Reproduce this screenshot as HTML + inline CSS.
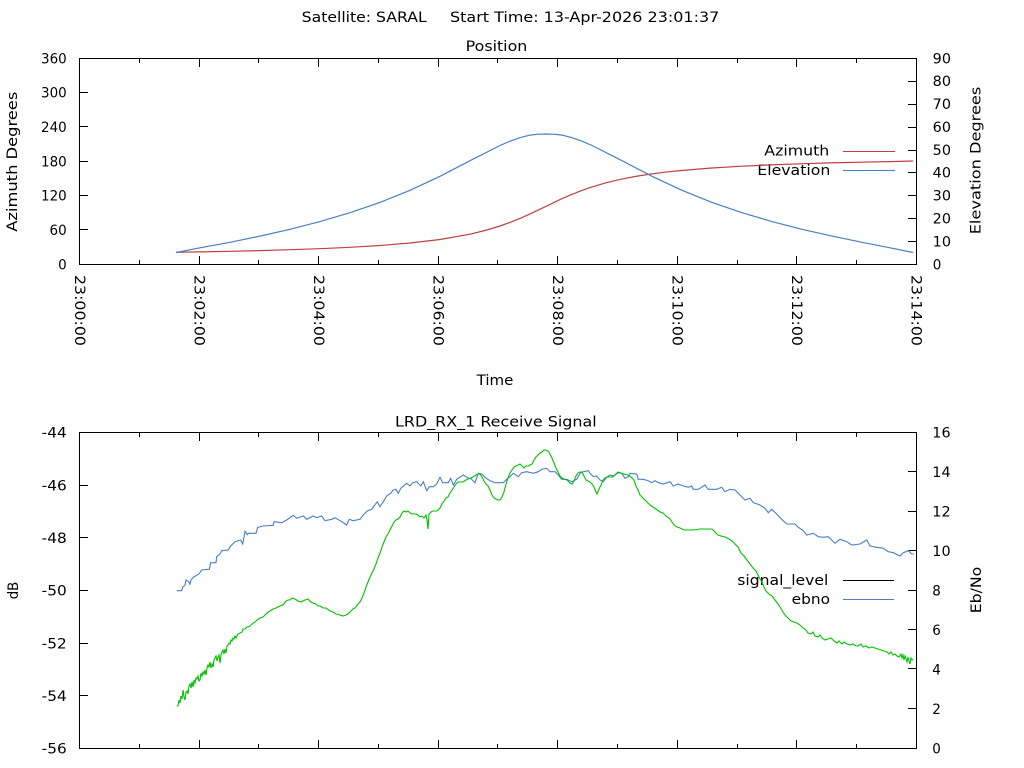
<!DOCTYPE html>
<html><head><meta charset="utf-8"><style>
html,body{margin:0;padding:0;background:#fff;}
svg{display:block;}
text{font-family:"DejaVu Sans","Liberation Sans",sans-serif;font-size:14px;fill:#000;}
</style></head><body>
<svg width="1024" height="768" viewBox="0 0 1024 768" xmlns="http://www.w3.org/2000/svg">
<rect width="1024" height="768" fill="#fff"/>
<text x="301.7" y="22" textLength="125" lengthAdjust="spacingAndGlyphs">Satellite: SARAL</text>
<text x="450" y="22" textLength="269.3" lengthAdjust="spacingAndGlyphs">Start Time: 13-Apr-2026 23:01:37</text>
<text x="465.7" y="51" textLength="61.6" lengthAdjust="spacingAndGlyphs">Position</text>
<text x="476.7" y="385" textLength="36.7" lengthAdjust="spacingAndGlyphs">Time</text>
<text x="395" y="426.7" textLength="201.7" lengthAdjust="spacingAndGlyphs">LRD_RX_1 Receive Signal</text>

<g shape-rendering="crispEdges" stroke="#000" stroke-width="1" fill="none">
<rect x="79.5" y="58.5" width="837" height="206"/>
<rect x="79.5" y="432.5" width="837" height="316"/>
<path d="M199.5 264V256M318.5 264V256M438.5 264V256M557.5 264V256M677.5 264V256M796.5 264V256
M199.5 59V67M318.5 59V67M438.5 59V67M557.5 59V67M677.5 59V67M796.5 59V67
M139.5 264V260M258.5 264V260M378.5 264V260M497.5 264V260M617.5 264V260M737.5 264V260M856.5 264V260
M139.5 59V63M258.5 59V63M378.5 59V63M497.5 59V63M617.5 59V63M737.5 59V63M856.5 59V63
M80 92.5H88M80 126.5H88M80 161.5H88M80 195.5H88M80 229.5H88
M916 81.5H908M916 104.5H908M916 127.5H908M916 150.5H908M916 172.5H908M916 195.5H908M916 218.5H908M916 241.5H908
M199.5 748V740M318.5 748V740M438.5 748V740M557.5 748V740M677.5 748V740M796.5 748V740
M199.5 433V441M318.5 433V441M438.5 433V441M557.5 433V441M677.5 433V441M796.5 433V441
M139.5 748V744M258.5 748V744M378.5 748V744M497.5 748V744M617.5 748V744M737.5 748V744M856.5 748V744
M139.5 433V437M258.5 433V437M378.5 433V437M497.5 433V437M617.5 433V437M737.5 433V437M856.5 433V437
M80 485.5H88M80 537.5H88M80 590.5H88M80 643.5H88M80 695.5H88
M916 471.5H908M916 511.5H908M916 550.5H908M916 590.5H908M916 629.5H908M916 668.5H908M916 708.5H908"/>
</g>

<g text-anchor="end">
<text x="66.7" y="63.3" textLength="25.7" lengthAdjust="spacingAndGlyphs">360</text>
<text x="66.7" y="97.6" textLength="25.7" lengthAdjust="spacingAndGlyphs">300</text>
<text x="66.7" y="131.9" textLength="25.7" lengthAdjust="spacingAndGlyphs">240</text>
<text x="66.7" y="166.3" textLength="25.7" lengthAdjust="spacingAndGlyphs">180</text>
<text x="66.7" y="200.6" textLength="25.7" lengthAdjust="spacingAndGlyphs">120</text>
<text x="66.7" y="234.9" textLength="17.2" lengthAdjust="spacingAndGlyphs">60</text>
<text x="66.7" y="269.3" textLength="8.6" lengthAdjust="spacingAndGlyphs">0</text>
<text x="66.7" y="437.6" textLength="25" lengthAdjust="spacingAndGlyphs">-44</text>
<text x="66.7" y="490.3" textLength="25" lengthAdjust="spacingAndGlyphs">-46</text>
<text x="66.7" y="542.9" textLength="25" lengthAdjust="spacingAndGlyphs">-48</text>
<text x="66.7" y="595.6" textLength="25" lengthAdjust="spacingAndGlyphs">-50</text>
<text x="66.7" y="648.3" textLength="25" lengthAdjust="spacingAndGlyphs">-52</text>
<text x="66.7" y="700.9" textLength="25" lengthAdjust="spacingAndGlyphs">-54</text>
<text x="66.7" y="753.6" textLength="25" lengthAdjust="spacingAndGlyphs">-56</text>
</g>
<g>
<text x="932.7" y="63.3" textLength="18.3" lengthAdjust="spacingAndGlyphs">90</text>
<text x="932.7" y="86.2" textLength="18.3" lengthAdjust="spacingAndGlyphs">80</text>
<text x="932.7" y="109.1" textLength="18.3" lengthAdjust="spacingAndGlyphs">70</text>
<text x="932.7" y="132" textLength="18.3" lengthAdjust="spacingAndGlyphs">60</text>
<text x="932.7" y="154.9" textLength="18.3" lengthAdjust="spacingAndGlyphs">50</text>
<text x="932.7" y="177.7" textLength="18.3" lengthAdjust="spacingAndGlyphs">40</text>
<text x="932.7" y="200.6" textLength="18.3" lengthAdjust="spacingAndGlyphs">30</text>
<text x="932.7" y="223.5" textLength="18.3" lengthAdjust="spacingAndGlyphs">20</text>
<text x="932.7" y="246.4" textLength="18.3" lengthAdjust="spacingAndGlyphs">10</text>
<text x="932.7" y="269.3" textLength="8.6" lengthAdjust="spacingAndGlyphs">0</text>
<text x="932.3" y="437.6" textLength="18.3" lengthAdjust="spacingAndGlyphs">16</text>
<text x="932.3" y="477.1" textLength="18.3" lengthAdjust="spacingAndGlyphs">14</text>
<text x="932.3" y="516.6" textLength="18.3" lengthAdjust="spacingAndGlyphs">12</text>
<text x="932.3" y="556.1" textLength="18.3" lengthAdjust="spacingAndGlyphs">10</text>
<text x="932.3" y="595.6" textLength="8.6" lengthAdjust="spacingAndGlyphs">8</text>
<text x="932.3" y="635.1" textLength="8.6" lengthAdjust="spacingAndGlyphs">6</text>
<text x="932.3" y="674.6" textLength="8.6" lengthAdjust="spacingAndGlyphs">4</text>
<text x="932.3" y="714.1" textLength="8.6" lengthAdjust="spacingAndGlyphs">2</text>
<text x="932.3" y="753.6" textLength="8.6" lengthAdjust="spacingAndGlyphs">0</text>
</g>
<g>
<text transform="translate(74.8,275) rotate(90)" textLength="71" lengthAdjust="spacingAndGlyphs">23:00:00</text>
<text transform="translate(194.3,275) rotate(90)" textLength="71" lengthAdjust="spacingAndGlyphs">23:02:00</text>
<text transform="translate(313.8,275) rotate(90)" textLength="71" lengthAdjust="spacingAndGlyphs">23:04:00</text>
<text transform="translate(433.3,275) rotate(90)" textLength="71" lengthAdjust="spacingAndGlyphs">23:06:00</text>
<text transform="translate(552.8,275) rotate(90)" textLength="71" lengthAdjust="spacingAndGlyphs">23:08:00</text>
<text transform="translate(672.3,275) rotate(90)" textLength="71" lengthAdjust="spacingAndGlyphs">23:10:00</text>
<text transform="translate(791.8,275) rotate(90)" textLength="71" lengthAdjust="spacingAndGlyphs">23:12:00</text>
<text transform="translate(911.3,275) rotate(90)" textLength="71" lengthAdjust="spacingAndGlyphs">23:14:00</text>
</g>
<text transform="translate(17,231.7) rotate(-90)" textLength="140" lengthAdjust="spacingAndGlyphs">Azimuth Degrees</text>
<text transform="translate(980.5,234.3) rotate(-90)" textLength="147.6" lengthAdjust="spacingAndGlyphs">Elevation Degrees</text>
<text transform="translate(17.8,599.3) rotate(-90)" textLength="17.6" lengthAdjust="spacingAndGlyphs">dB</text>
<text transform="translate(981,613.3) rotate(-90)" textLength="46.6" lengthAdjust="spacingAndGlyphs">Eb/No</text>

<text x="764.3" y="155.7" textLength="65" lengthAdjust="spacingAndGlyphs">Azimuth</text>
<text x="757.3" y="175" textLength="73" lengthAdjust="spacingAndGlyphs">Elevation</text>
<g shape-rendering="crispEdges">
<path d="M843 151.5H895" stroke="#c04040" stroke-width="1"/>
<path d="M843 170.5H895" stroke="#4a7fc1" stroke-width="1"/>
<path d="M843 580.5H894" stroke="#000" stroke-width="1"/>
<path d="M843 599.5H894" stroke="#4a7fc1" stroke-width="1"/>
</g>
<text x="737.3" y="585" textLength="91" lengthAdjust="spacingAndGlyphs">signal_level</text>
<text x="791.7" y="604" textLength="38.3" lengthAdjust="spacingAndGlyphs">ebno</text>

<polyline fill="none" stroke="#c04040" stroke-width="1.2" points="176,252.3 200,251.9 230,251.3 260,250.6 290,249.7 320,248.7 350,247.3 380,245.5 410,243 440,239.5 470,234.2 485,230.5 500,226 510,222.4 520,218.4 530,213.9 545,206.8 560,199.6 570,195.2 580,191.2 590,187.6 605,183.05 620,179.4 635,176.5 650,174.1 665,172.2 680,170.6 710,168.1 740,166.3 770,164.9 800,163.8 830,162.9 860,162.2 890,161.6 913,161"/>
<polyline fill="none" stroke="#4a7fc1" stroke-width="1.2" points="176,252.5 200,247.8 230,242.3 260,236.1 290,229.3 320,221.6 350,212.7 380,202.4 410,190.3 440,176.3 470,160.7 500,145.5 510,141.2 520,137.7 530,135.1 537,134.3 546,134 555,134.3 562,135.1 572,137.7 582,141.2 592,145.5 622,160.7 652,176.3 682,190.3 712,202.4 742,212.7 772,221.6 802,229.3 832,236.1 862,242.3 890,247.8 913,252.5"/>

<polyline fill="none" stroke="#4a7fc1" stroke-width="1.1" points="176.7,590.7 181.7,590.7 182.7,587.3 185,585 186,580 188.7,581.7 190,584.3 191,580 193.3,577.3 199,574 201.7,570 209.3,569.3 210.7,562.7 216,562.7 216.7,556.7 220,554 221.7,550.7 228.3,550 230,546.7 235,541.7 240.7,540 242.7,544 245,531.3 247.3,534.7 248.3,533.3 256,533.3 257.7,527.3 263.3,526 273.3,525.3 274,521.7 281.7,522.7 286.7,520 293.3,515.3 296.7,518.3 303.3,516 306.7,519.3 313.3,516 316.7,517.7 321.7,516 325,520.7 331.7,519.3 335,517.7 340,520.7 343.3,522.7 346.7,525 349.3,519.3 353.3,520.7 360,519.3 363.3,515 367.3,511 371.7,509.3 374,506 377.3,501.7 380,506.7 383.3,501.7 386.7,496 390.7,493.3 393.3,490 396,489.3 398.3,493.3 400.7,488.3 406.7,483.3 410,486 412.7,482.7 416.7,481.7 420.7,486 423.3,481.7 426.7,490.7 429.3,486.7 433.3,486.7 436.7,484 440,477.3 442.7,482.7 448.3,482.7 450.7,478.3 453.3,485 456.7,479.3 463.3,475 466.7,477.3 471.7,479.3 475,482.7 478.3,473.3 481.7,474 485,477.3 490,480.7 495,482.7 503.3,482.7 506.7,479.3 510,476.7 513.3,473.3 518.3,476.7 521.7,472.7 526.7,471.7 533.3,473.3 538.3,471.7 541.7,469.3 546.7,468.3 550,471.7 555,471.7 558.3,475 561.7,479.3 566.7,479.3 571.7,481.7 576.7,479.3 580,473.3 583.3,471.7 588.3,470.7 590,473.3 593.3,476.7 596.7,476 600,480 603.3,481.7 606.7,477.3 610,475 613.3,476 618.3,472.7 621.7,473.3 625,478.3 628.3,476.7 630,473.3 636.7,474 638.3,479.3 643.3,479.3 648.3,480.7 651.7,482.7 655,480.7 658.3,482.7 663.3,484 670,481.7 673.3,486 678.3,484 683.3,486 688.3,487.3 691.7,486 693.3,489.3 698.3,489.3 705,485 708.3,489.3 716.7,489.3 721.7,487.3 725,491.7 730,489.3 735,490 740,495 745,500 750,498.3 753.3,502.7 760,505 765,508.3 768.3,512.7 771.7,509.3 776.7,514 781.7,519.3 786.7,524 795,524 798.3,527.3 803.3,530.7 806.7,535 813.3,533.3 818.3,536.7 823.3,537.3 828.3,536.7 831.7,540 835,543.3 840,539.3 846.7,541.7 851.7,545 860,544 866.7,540 870,546 876.7,547.3 883.3,548.3 888.3,551.7 893.3,552.7 900,556 903.3,552.7 908.3,550.7 911.7,554 914,554"/>
<polyline fill="none" stroke="#00c000" stroke-width="1.1" points="176.7,706 178,706 179,700 180,703 181,696 182,699 183,690 184,697 185,700 186,692 187,691 188,694 189,686 190,684 191,688 192,682 193,687 194,680 195,683 196,678 197,679 198,676 199,681 200,680 201,673 202,676 203,672 204,674 205,670 206,675 207,668 208,665 209,667 210,662 211,668 212,664 213,667 214,660 215,658 216,656 217,661 218,657 219,655 220,663 221,655 222,652 223,650 224,654 225,649 226,653 227,646 228,645 229,643 230,644 231,640 232,641 233,638 234,639 235,636 236,638 237,636 238,634 240,633 242,632 243,629 245,629 247,627 250,626 252,624 255,622 257,620 260,618 263,617 265,615 268,612 270,611 273,609 276,608 280,606 283,605 286,601 288,600 290,600 292,598 295,599 298,601 301,602 305,600 308,599 311,602 313,603 316,604 318,606 320,606 323,608 326,608 330,611 333,612 336,614 340,615 343,616 346,615 348,614 350,612 353,609 355,608 358,604 360,602 362,598 364,593 366,587 368,582 370,577 372,573 374,569 376,564 378,558 380,553 382,547 384,542 386,537 388,534 390,530 392,526 394,522 396,520 398,519 400,517 402,513 404,511 406,512 408,511 410,513 412,514 416,514 418,515 420,517 422,516 424,518 426,515 427,520 428,529 429,514 431,512 433,511 437,511 440,508 442,504 444,501 446,498 448,497 450,493 452,490 454,487 456,484 458,482 463,482 466,480 468,479 471,478 473,477 476,475 478,474 480,474 482,477 484,481 486,484 488,486 490,490 492,495 494,498 496,499 498,500 500,500 502,497 504,492 506,484 508,478 510,473 512,470 514,467 516,466 518,465 520,464 522,466 524,468 526,466 528,466 530,465 532,464 534,460 536,457 538,455 540,453 542,452 544,450 546,450 548,451 550,454 552,458 554,463 556,468 558,472 560,476 562,478 564,479 567,480 570,483 572,484 574,481 576,476 578,473 580,472 582,472 584,476 586,480 588,481 590,482 592,484 594,487 596,492 597,494 599,489 601,485 603,480 605,478 607,477 610,477 613,477 616,474 618,472 621,473 624,474 628,475 631,477 634,480 636,486 638,490 640,495 642,497 645,500 648,503 650,505 653,507 656,509 660,512 663,513 666,516 670,519 672,522 674,525 677,527 680,528 684,530 688,530 693,530 700,529 706,529 712,529 715,532 718,535 721,536 725,537 729,539 732,541 735,544 738,547 741,553 744,556 747,560 750,564 753,568 756,571 758,575 760,579 762,582 764,587 766,591 769,594 772,596 775,600 778,604 780,607 783,612 785,615 788,618 791,621 794,622 797,623 800,625 803,628 806,630 808,633 811,634 813,632 815,636 818,637 820,635 822,638 825,640 828,639 831,638 834,641 837,643 839,641 842,644 844,642 847,644 850,645 853,644 856,646 858,646 861,644 863,647 866,646 869,648 872,647 875,648 878,649 881,650 884,651 887,652 889,654 891,652 893,655 895,654 897,656 899,657 901,654 902,658 903,655 904,660 905,656 906,659 907,662 908,657 909,661 910,664 911,658 912,660 913,659"/>
</svg>
</body></html>
